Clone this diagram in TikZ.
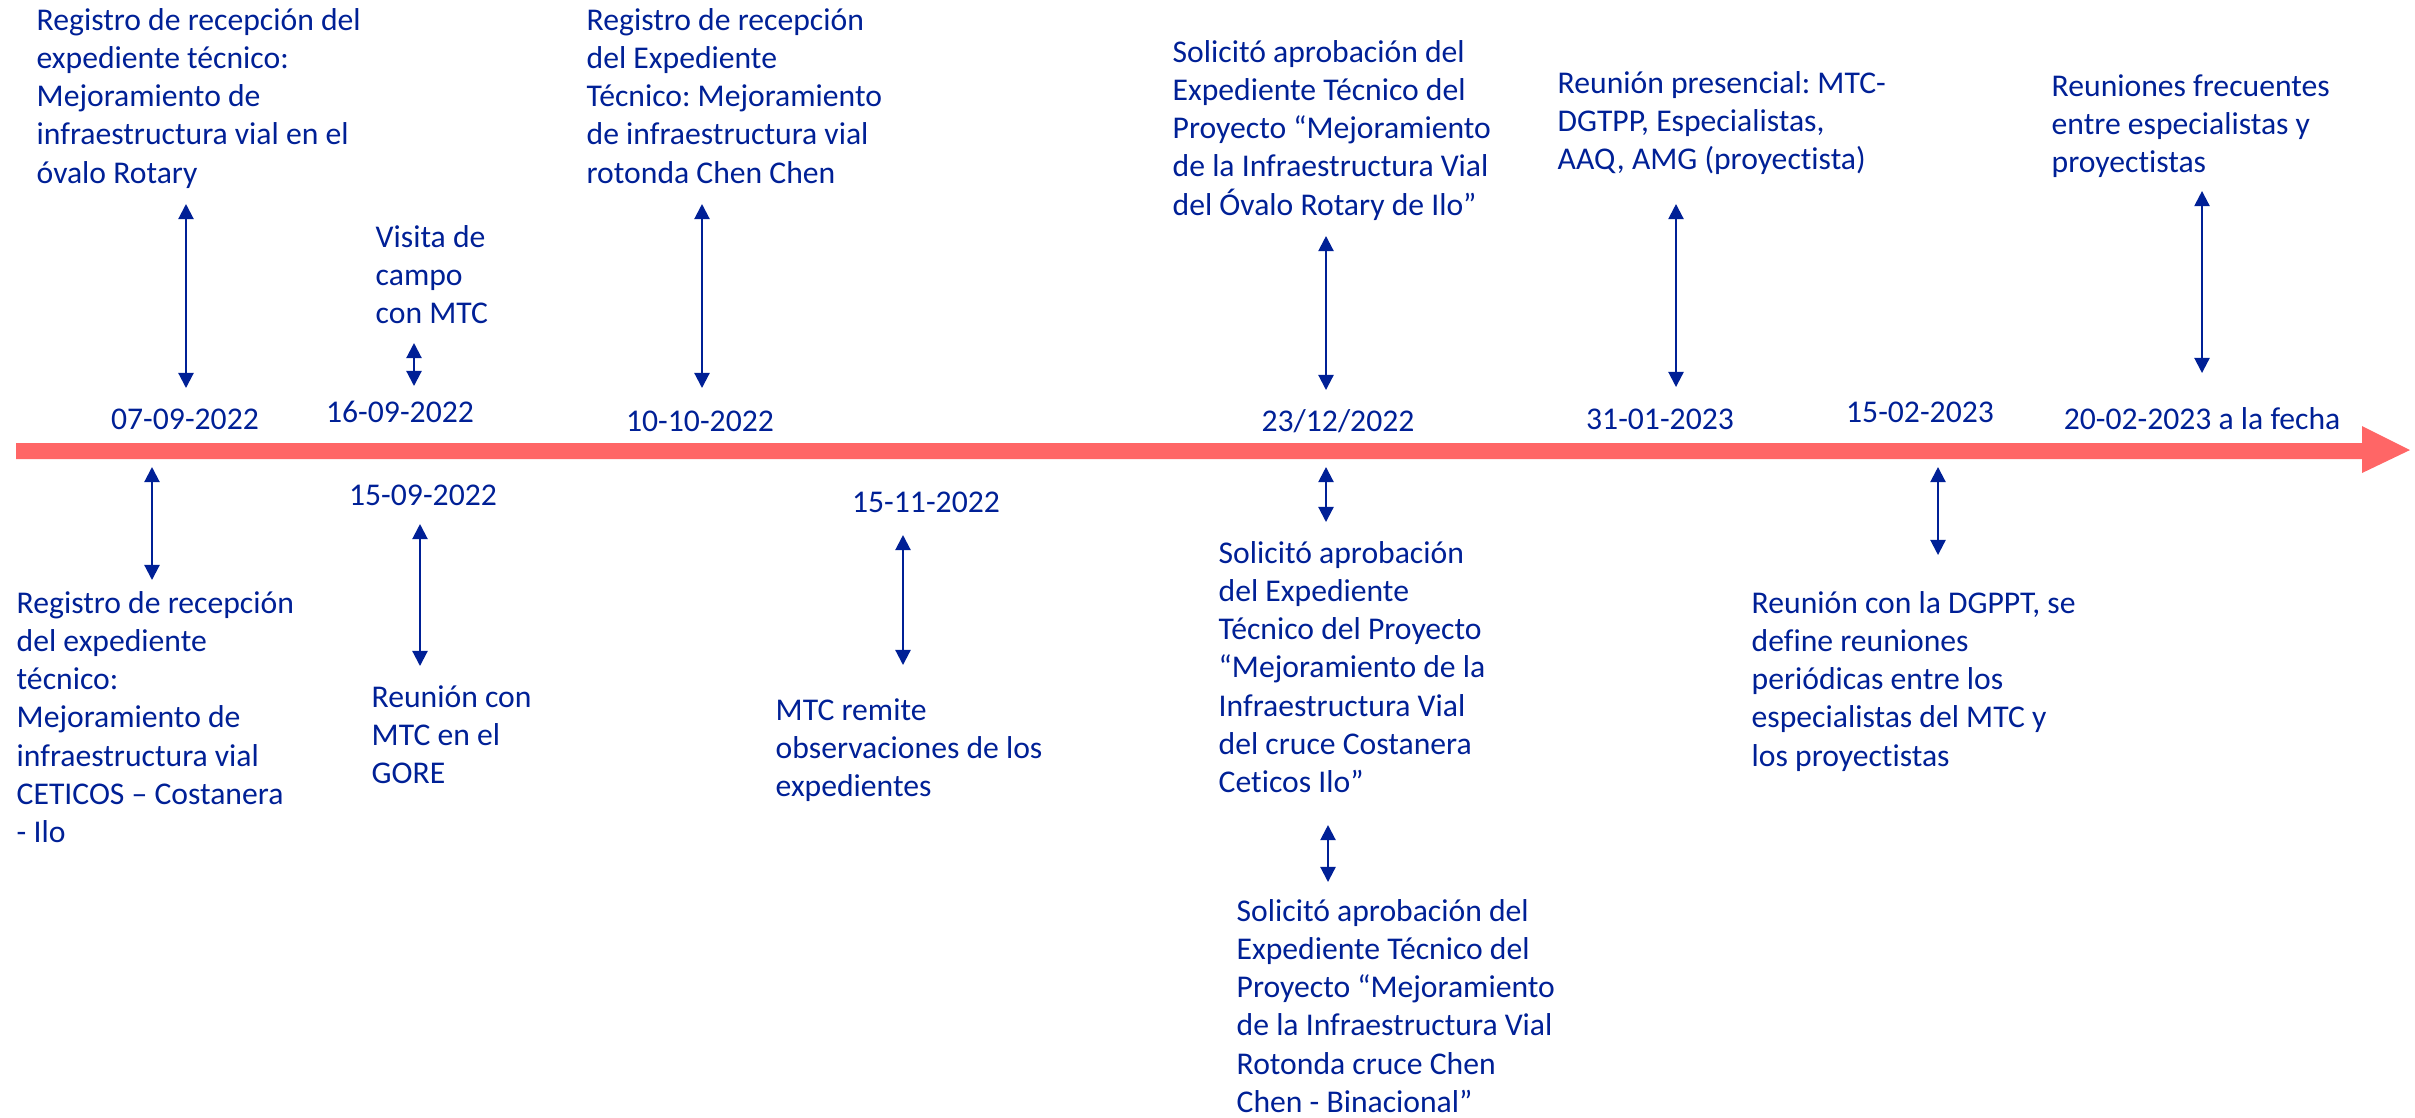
\documentclass[tikz,border=0pt]{standalone}
\usepackage{fontspec}
\setmainfont{Carlito}[Ligatures={TeX,NoCommon}]
\usetikzlibrary{arrows.meta}
\definecolor{tlblue}{RGB}{0,32,150}
\definecolor{tlred}{RGB}{255,102,102}
\frenchspacing

\begin{document}
\begin{tikzpicture}[x=0.01cm,y=-0.01cm,
date node/.style={anchor=base,inner sep=0pt,text=tlblue,font=\fontsize{9}{10.85}\selectfont},
event node/.style={anchor=north west,inner sep=0pt,align=left,text=tlblue,font=\fontsize{9}{10.85}\selectfont},
link/.style={draw=tlblue,line width=0.6pt,{Triangle[length=4.3pt,width=4.3pt]}-{Triangle[length=4.3pt,width=4.3pt]}}]
\useasboundingbox (0,0) rectangle (2415,1117);
\fill[tlred] (16,443) -- (2362,443) -- (2362,426) -- (2410,450) -- (2362,473) -- (2362,459) -- (16,459) -- cycle;
\node[date node] (1) at (185,429) {07-09-2022};
\node[date node] (2) at (400,422) {16-09-2022};
\node[date node] (3) at (700,431) {10-10-2022};
\node[date node] (4) at (1338,431) {23/12/2022};
\node[date node] (5) at (1660,429) {31-01-2023};
\node[date node] (6) at (1920,422) {15-02-2023};
\node[date node] (7) at (2202,429) {20-02-2023 a la fecha};
\node[date node] (8) at (423,505) {15-09-2022};
\node[date node] (9) at (926,512) {15-11-2022};
\node[event node] (e1) at (36,3) {\strut Registro de recepción del\\expediente técnico:\\Mejoramiento de\\infraestructura vial en el\\óvalo Rotary};
\node[event node] (e2) at (375,220) {\strut Visita de\\campo\\con MTC};
\node[event node] (e3) at (586,3) {\strut Registro de recepción\\del Expediente\\Técnico: Mejoramiento\\de infraestructura vial\\rotonda Chen Chen};
\node[event node] (e4) at (1172,35) {\strut Solicitó aprobación del\\Expediente Técnico del\\Proyecto “Mejoramiento\\de la Infraestructura Vial\\del Óvalo Rotary de Ilo”};
\node[event node] (e5) at (1557,66) {\strut Reunión presencial: MTC-\\DGTPP, Especialistas,\\AAQ, AMG (proyectista)};
\node[event node] (e6) at (2051,69) {\strut Reuniones frecuentes\\entre especialistas y\\proyectistas};
\node[event node] (e7) at (16,586) {\strut Registro de recepción\\del expediente\\técnico:\\Mejoramiento de\\infraestructura vial\\CETICOS – Costanera\\- Ilo};
\node[event node] (e8) at (371,680) {\strut Reunión con\\MTC en el\\GORE};
\node[event node] (e9) at (775,693) {\strut MTC remite\\observaciones de los\\expedientes};
\node[event node] (e10) at (1218,536) {\strut Solicitó aprobación\\del Expediente\\Técnico del Proyecto\\“Mejoramiento de la\\Infraestructura Vial\\del cruce Costanera\\Ceticos Ilo”};
\node[event node] (e11) at (1236,894) {\strut Solicitó aprobación del\\Expediente Técnico del\\Proyecto “Mejoramiento\\de la Infraestructura Vial\\Rotonda cruce Chen\\Chen - Binacional”};
\node[event node] (e12) at (1751,586) {\strut Reunión con la DGPPT, se\\define reuniones\\periódicas entre los\\especialistas del MTC y\\los proyectistas};
\coordinate (a1) at (186,204); \coordinate (b1) at (186,388);
\coordinate (a2) at (414,343); \coordinate (b2) at (414,386);
\coordinate (a3) at (702,204); \coordinate (b3) at (702,388);
\coordinate (a4) at (1326,236); \coordinate (b4) at (1326,390);
\coordinate (a5) at (1676,204); \coordinate (b5) at (1676,387);
\coordinate (a6) at (2202,191); \coordinate (b6) at (2202,373);
\coordinate (a7) at (152,467); \coordinate (b7) at (152,580);
\coordinate (a8) at (420,524); \coordinate (b8) at (420,666);
\coordinate (a9) at (903,535); \coordinate (b9) at (903,665);
\coordinate (a10) at (1326,467); \coordinate (b10) at (1326,522);
\coordinate (a11) at (1328,825); \coordinate (b11) at (1328,882);
\coordinate (a12) at (1938,467); \coordinate (b12) at (1938,555);
\foreach \i in {1,...,12}
  \draw[link] (a\i) -- (b\i);
\end{tikzpicture}
\end{document}
